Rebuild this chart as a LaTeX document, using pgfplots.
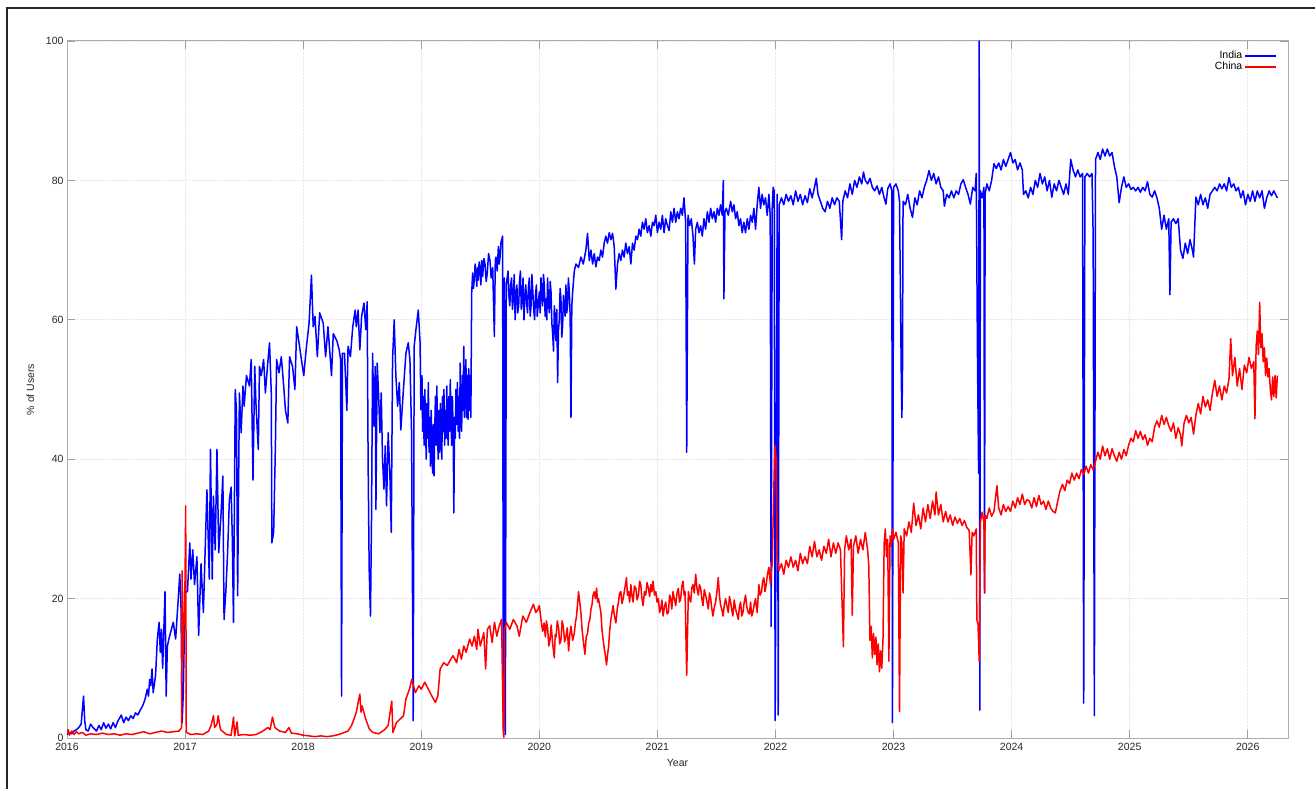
\documentclass[border=0pt]{standalone}
\usepackage{fontspec}
\setmainfont{Liberation Sans}
\usepackage{pgfplots}
\pgfplotsset{compat=1.18}
\usepackage{pgfplotstable}

\pgfplotstableread{
x y
2016.000 0.5
2016.020 0.8
2016.040 0.6
2016.060 1.0
2016.080 1.2
2016.100 1.5
2016.120 2.0
2016.140 6.0
2016.150 2.5
2016.160 1.2
2016.180 1.0
2016.200 2.0
2016.220 1.5
2016.250 1.0
2016.270 1.8
2016.290 1.2
2016.310 2.2
2016.330 1.4
2016.350 2.0
2016.370 1.3
2016.390 2.2
2016.410 1.5
2016.430 2.4
2016.460 3.3
2016.480 2.2
2016.500 3.0
2016.520 2.5
2016.540 3.2
2016.560 2.8
2016.580 3.6
2016.600 3.3
2016.620 4.0
2016.640 4.6
2016.660 5.5
2016.680 7.0
2016.690 6.0
2016.700 8.4
2016.710 7.5
2016.720 9.9
2016.730 6.5
2016.750 9.0
2016.765 14.2
2016.780 16.6
2016.790 12.3
2016.800 15.6
2016.810 10.0
2016.830 21.0
2016.840 6.0
2016.850 13.2
2016.870 14.7
2016.900 16.6
2016.920 14.2
2016.940 19.4
2016.955 23.5
2016.965 19.4
2016.975 2.2
2016.985 6.5
2017.000 20.9
2017.020 21.0
2017.040 28.0
2017.050 22.8
2017.065 27.0
2017.080 22.0
2017.100 26.0
2017.115 14.7
2017.135 25.0
2017.155 18.0
2017.170 27.0
2017.185 35.6
2017.205 22.8
2017.215 41.4
2017.230 22.8
2017.240 34.7
2017.255 27.0
2017.270 41.4
2017.285 26.6
2017.305 32.3
2017.320 37.6
2017.330 17.0
2017.345 21.0
2017.360 26.6
2017.375 34.2
2017.390 36.0
2017.400 28.5
2017.410 16.6
2017.425 50.0
2017.435 47.0
2017.445 20.4
2017.460 49.5
2017.475 43.8
2017.490 50.5
2017.500 47.6
2017.520 52.0
2017.545 50.5
2017.560 54.3
2017.575 37.0
2017.590 53.3
2017.600 48.0
2017.620 41.4
2017.630 53.3
2017.645 52.0
2017.665 54.3
2017.680 49.5
2017.700 53.8
2017.715 56.7
2017.730 49.5
2017.735 28.0
2017.750 29.5
2017.765 42.0
2017.775 54.3
2017.795 52.4
2017.815 54.7
2017.835 50.5
2017.850 47.0
2017.870 45.2
2017.885 54.7
2017.910 53.3
2017.930 50.0
2017.945 59.0
2017.965 56.7
2017.985 54.3
2018.005 52.0
2018.025 55.7
2018.050 59.5
2018.070 66.4
2018.085 59.0
2018.100 60.5
2018.120 54.7
2018.140 61.0
2018.170 59.5
2018.190 54.7
2018.210 59.0
2018.240 52.0
2018.255 58.0
2018.285 57.0
2018.305 55.7
2018.317 54.3
2018.325 6.0
2018.333 55.2
2018.350 55.2
2018.370 47.0
2018.380 56.2
2018.400 54.7
2018.420 59.0
2018.440 61.4
2018.450 59.0
2018.465 61.4
2018.480 55.7
2018.495 60.5
2018.515 62.4
2018.530 58.6
2018.542 62.6
2018.550 39.5
2018.559 24.2
2018.570 17.5
2018.579 31.8
2018.588 55.2
2018.600 44.7
2018.610 53.3
2018.616 32.8
2018.627 53.8
2018.638 49.5
2018.650 43.8
2018.661 49.5
2018.672 40.0
2018.684 35.7
2018.695 41.9
2018.706 33.3
2018.720 43.8
2018.734 38.0
2018.746 29.5
2018.757 54.3
2018.771 60.0
2018.785 52.0
2018.800 47.6
2018.814 51.0
2018.827 44.2
2018.847 49.5
2018.870 55.2
2018.890 56.7
2018.904 54.3
2018.918 43.8
2018.932 2.5
2018.940 56.2
2018.955 58.6
2018.975 61.4
2018.990 56.7
2018.997 47.1
2019.006 52
2019.012 44
2019.018 49
2019.024 42
2019.030 50
2019.036 45
2019.042 40
2019.048 48
2019.054 43
2019.060 51
2019.066 41
2019.072 46
2019.078 39
2019.084 47
2019.090 42
2019.096 38
2019.102 45
2019.108 37.6
2019.114 44
2019.120 49
2019.126 42
2019.132 50.5
2019.138 43
2019.144 40
2019.150 47
2019.156 41
2019.162 48
2019.168 43
2019.174 40
2019.180 49
2019.186 44
2019.192 50
2019.198 42
2019.204 47
2019.210 43
2019.216 50.5
2019.222 45
2019.228 42
2019.234 49
2019.240 44
2019.246 51.4
2019.252 45
2019.258 42
2019.264 49
2019.270 44
2019.276 32.3
2019.282 46
2019.288 43
2019.294 50
2019.300 45
2019.306 51
2019.312 44
2019.318 49
2019.324 43
2019.330 53.8
2019.336 46
2019.342 44
2019.348 52
2019.354 47
2019.360 56.2
2019.366 46
2019.372 50
2019.378 54.3
2019.384 46
2019.390 52
2019.396 45.7
2019.402 53
2019.408 47
2019.414 52
2019.420 46
2019.427 63.8
2019.435 66.7
2019.442 64.5
2019.449 65.7
2019.456 68
2019.463 67.0
2019.470 64.8
2019.477 67.5
2019.483 65.7
2019.490 68.3
2019.497 67.6
2019.505 65
2019.512 68.5
2019.520 66.2
2019.530 68.8
2019.540 68.0
2019.550 65.5
2019.559 66.7
2019.570 69.5
2019.582 68.5
2019.592 66
2019.605 67.5
2019.619 57.6
2019.627 68.5
2019.633 69.0
2019.643 67
2019.653 70.5
2019.660 68
2019.667 69.0
2019.674 71
2019.681 71.5
2019.689 72.0
2019.695 1.0
2019.703 66.0
2019.712 0.5
2019.720 65.0
2019.735 67.0
2019.742 63.5
2019.750 62.0
2019.757 65
2019.765 66.0
2019.772 61.5
2019.780 63.0
2019.787 66.5
2019.795 60.0
2019.802 63.5
2019.810 65.0
2019.817 61
2019.825 62.0
2019.832 65.5
2019.840 67.0
2019.847 61.5
2019.855 63.0
2019.862 66
2019.870 60.0
2019.877 63
2019.885 65.0
2019.892 62.5
2019.900 61.0
2019.907 64.5
2019.915 66.0
2019.922 60.5
2019.930 62.0
2019.937 66.5
2019.945 64.0
2019.952 61.5
2019.960 60.0
2019.967 63.5
2019.975 65.0
2019.982 60.5
2019.990 62.0
2020.000 64
2020.007 61
2020.014 66
2020.021 63.5
2020.028 62
2020.035 66.5
2020.042 65
2020.049 60.5
2020.056 63
2020.063 60
2020.070 66
2020.077 62.5
2020.085 61
2020.092 65.5
2020.099 64
2020.106 59.5
2020.113 58
2020.120 55.5
2020.127 62
2020.134 60
2020.141 57
2020.148 61.5
2020.155 51
2020.162 58.5
2020.169 60
2020.176 64.5
2020.183 63
2020.190 57.5
2020.197 59
2020.204 63.5
2020.211 62
2020.218 60.5
2020.225 65
2020.232 61
2020.239 62
2020.246 66
2020.254 64
2020.261 60.5
2020.268 46
2020.275 62
2020.282 64
2020.296 67
2020.310 68
2020.332 67.5
2020.352 69
2020.372 68
2020.394 70
2020.408 72.4
2020.423 68.5
2020.437 70
2020.451 68
2020.465 69.5
2020.479 67.6
2020.493 69
2020.507 68.5
2020.521 70
2020.535 69
2020.549 71
2020.563 72
2020.577 71
2020.592 72.5
2020.606 71.5
2020.620 72.4
2020.634 70.5
2020.648 64.4
2020.662 68
2020.676 69.5
2020.690 68.5
2020.704 70
2020.718 69
2020.732 71
2020.746 69.5
2020.761 70.5
2020.775 68
2020.789 71
2020.803 70
2020.817 72
2020.831 71.5
2020.845 73
2020.859 72
2020.873 74
2020.887 73
2020.901 74.5
2020.915 72.5
2020.930 73.5
2020.944 72
2020.958 74
2020.972 73.5
2020.986 75
2021.000 72.5
2021.014 74
2021.028 73
2021.042 75
2021.056 72.5
2021.070 74.5
2021.085 73.5
2021.099 72.8
2021.113 75.5
2021.127 74
2021.141 76
2021.155 74
2021.169 75.5
2021.183 74.5
2021.197 76
2021.211 75
2021.225 77.5
2021.239 74
2021.248 41
2021.259 75
2021.273 73.5
2021.287 74.5
2021.301 72
2021.313 68
2021.324 73
2021.338 74
2021.352 72.5
2021.366 73.5
2021.380 72
2021.394 74.5
2021.408 73
2021.423 75.5
2021.437 74
2021.451 76
2021.465 74.5
2021.479 75.5
2021.493 74
2021.507 76
2021.521 75
2021.535 76.5
2021.549 75
2021.558 80
2021.563 63
2021.572 75.5
2021.583 76
2021.600 75
2021.620 77
2021.634 75.5
2021.648 76.5
2021.662 74.5
2021.676 75.5
2021.690 73.5
2021.704 74.5
2021.718 72.5
2021.732 74
2021.746 72.5
2021.761 74.5
2021.775 73
2021.789 75
2021.803 74
2021.817 76
2021.831 73
2021.845 76.5
2021.859 79
2021.873 76
2021.887 78
2021.901 76.5
2021.915 77.5
2021.930 75
2021.944 78
2021.955 75
2021.963 16
2021.972 76
2021.980 79
2021.989 78.5
2021.997 2.5
2022.006 36
2022.014 78
2022.023 3.3
2022.031 76.5
2022.050 77.5
2022.070 76.5
2022.090 78
2022.110 77
2022.130 77.8
2022.150 76.5
2022.170 78.5
2022.190 77
2022.210 78
2022.230 76.5
2022.250 77.8
2022.270 76.8
2022.290 78.8
2022.310 77.5
2022.330 79
2022.345 80.3
2022.360 78
2022.380 77
2022.400 76
2022.420 75.5
2022.440 77
2022.460 76
2022.480 77.5
2022.500 76.5
2022.520 77.5
2022.540 77
2022.560 71.5
2022.570 77
2022.590 78.5
2022.610 77.5
2022.630 79.5
2022.650 78
2022.670 80
2022.690 79
2022.710 80.5
2022.730 79.5
2022.745 81.2
2022.760 80
2022.780 79.5
2022.800 80.3
2022.820 79
2022.840 78.5
2022.860 79.2
2022.880 78
2022.900 79
2022.920 77.5
2022.935 76.6
2022.950 78.8
2022.970 79.5
2022.985 78.5
2022.990 2.2
2023.000 79
2023.020 79.5
2023.040 78.5
2023.050 77
2023.065 52
2023.070 46
2023.075 51
2023.080 77
2023.100 76.5
2023.120 78
2023.140 76
2023.160 74.7
2023.180 77.5
2023.200 76.5
2023.220 78.5
2023.240 77.5
2023.260 79
2023.280 80
2023.300 81.4
2023.320 80
2023.340 81
2023.360 79.5
2023.380 80.5
2023.400 79
2023.420 78.5
2023.430 76.3
2023.450 78
2023.470 77.5
2023.490 78.5
2023.510 77.5
2023.530 78.5
2023.550 78
2023.570 79.5
2023.590 80.1
2023.610 79
2023.630 78
2023.650 76.6
2023.670 79
2023.690 78.5
2023.700 81
2023.710 55.4
2023.720 38
2023.725 100
2023.730 4
2023.735 78.5
2023.750 77.5
2023.765 79
2023.770 20.8
2023.775 78
2023.790 79.5
2023.810 78.5
2023.830 80
2023.850 82.4
2023.870 81.7
2023.890 82.5
2023.910 81.5
2023.930 83
2023.950 82
2023.970 83
2023.990 84
2024.010 82.5
2024.030 83
2024.050 81.5
2024.070 82.5
2024.090 81.5
2024.100 78
2024.120 78.5
2024.140 77.5
2024.160 79
2024.180 78
2024.200 80
2024.220 79
2024.240 81
2024.260 79.5
2024.280 80.5
2024.300 78.5
2024.320 80
2024.340 77.6
2024.360 79.5
2024.380 78.5
2024.400 80
2024.420 79
2024.440 78
2024.460 79.5
2024.480 78
2024.500 83
2024.520 81.5
2024.540 80.5
2024.560 81.5
2024.580 80.5
2024.600 81
2024.610 5
2024.620 80.5
2024.640 81
2024.660 80.5
2024.680 81
2024.690 72
2024.700 3.2
2024.710 83
2024.730 84
2024.750 83
2024.770 84.5
2024.790 83.5
2024.810 84.5
2024.830 83.5
2024.850 84
2024.870 82
2024.890 80.5
2024.910 76.8
2024.930 79
2024.950 80.5
2024.970 79
2024.990 79.5
2025.010 78.7
2025.030 79
2025.050 78.5
2025.070 79
2025.090 78.3
2025.110 79
2025.130 78.5
2025.150 79.8
2025.170 78
2025.190 77.6
2025.210 78.5
2025.230 77.5
2025.250 76
2025.270 73
2025.290 75
2025.310 73
2025.330 74.5
2025.340 63.6
2025.350 74
2025.370 74.5
2025.390 73.8
2025.410 74.5
2025.430 70
2025.450 68.8
2025.470 71
2025.490 69.5
2025.510 71.5
2025.530 70
2025.540 69
2025.560 77.6
2025.580 76.5
2025.600 78
2025.620 76.5
2025.640 77.5
2025.660 76
2025.680 78
2025.700 78.5
2025.720 79
2025.740 78.5
2025.760 79.5
2025.780 78.8
2025.800 79.5
2025.820 78.5
2025.840 80.4
2025.860 79
2025.880 79.5
2025.900 78.5
2025.920 79
2025.940 77.5
2025.960 78.5
2025.980 76.5
2026.000 78
2026.020 77
2026.040 78.5
2026.060 77
2026.080 78.5
2026.100 77.5
2026.120 78.5
2026.140 76
2026.160 77.5
2026.180 78.5
2026.200 77.8
2026.220 78.5
2026.240 77.8
2026.250 77.5
}\india

\pgfplotstableread{
x y
2016.000 0.8
2016.010 1.2
2016.020 0.4
2016.040 1.0
2016.060 0.5
2016.080 0.9
2016.100 0.6
2016.130 0.8
2016.160 0.4
2016.200 0.6
2016.250 0.5
2016.300 0.7
2016.350 0.5
2016.400 0.6
2016.450 0.4
2016.500 0.6
2016.550 0.5
2016.600 0.7
2016.650 0.9
2016.700 0.6
2016.750 0.8
2016.800 1.0
2016.850 0.8
2016.900 0.9
2016.950 1.0
2016.970 1.5
2016.975 24.0
2016.980 11.0
2016.990 16.0
2017.000 23.0
2017.005 33.3
2017.010 0.8
2017.050 0.5
2017.100 0.6
2017.150 0.5
2017.200 1.0
2017.220 1.8
2017.240 3.2
2017.250 1.5
2017.270 2.0
2017.280 3.2
2017.300 1.2
2017.350 0.5
2017.390 0.4
2017.410 3.0
2017.420 0.3
2017.440 2.3
2017.450 0.4
2017.500 0.5
2017.550 0.4
2017.600 0.5
2017.650 0.9
2017.700 1.5
2017.720 1.2
2017.740 3.0
2017.760 1.5
2017.800 1.0
2017.850 0.8
2017.880 1.5
2017.900 0.7
2017.950 0.6
2018.000 0.4
2018.050 0.3
2018.100 0.2
2018.150 0.3
2018.200 0.2
2018.250 0.3
2018.300 0.5
2018.350 0.8
2018.380 1.0
2018.410 1.8
2018.430 2.7
2018.450 3.7
2018.470 5.5
2018.480 6.3
2018.490 3.7
2018.500 4.6
2018.530 2.7
2018.560 1.3
2018.590 0.8
2018.640 0.6
2018.690 1.2
2018.720 1.8
2018.750 5.3
2018.760 0.8
2018.790 2.2
2018.820 2.7
2018.850 3.2
2018.870 5.6
2018.900 7.0
2018.920 8.4
2018.950 6.5
2018.980 7.5
2019.000 7.0
2019.030 8.0
2019.060 7.0
2019.090 6.0
2019.120 5.1
2019.140 6.0
2019.160 9.9
2019.190 10.8
2019.220 10.4
2019.250 11.3
2019.270 11.8
2019.300 10.8
2019.320 12.7
2019.340 11.3
2019.360 13.2
2019.380 12.3
2019.410 14.2
2019.430 13.2
2019.450 14.6
2019.470 12.7
2019.480 15.6
2019.500 13.2
2019.530 15.1
2019.545 9.9
2019.560 15.6
2019.580 16.1
2019.600 13.7
2019.620 16.6
2019.640 14.6
2019.660 16.1
2019.680 17.0
2019.695 0.8
2019.700 0.1
2019.705 15.6
2019.720 16.6
2019.750 15.6
2019.780 17.0
2019.810 16.1
2019.830 14.6
2019.860 17.5
2019.890 16.6
2019.920 18.0
2019.950 19.2
2019.970 18.0
2019.990 18.5
2020.000 19
2020.014 17
2020.028 15.3
2020.040 16.5
2020.051 14.5
2020.060 16.8
2020.070 15.8
2020.080 13.2
2020.090 14
2020.100 16.2
2020.113 13.5
2020.127 11.5
2020.134 14.8
2020.141 14.5
2020.152 16.8
2020.163 15.8
2020.172 13.5
2020.183 14
2020.193 16.8
2020.203 16
2020.214 13.8
2020.225 14.5
2020.236 15.8
2020.248 12.5
2020.258 14.8
2020.268 16
2020.282 14
2020.296 15
2020.305 16.5
2020.315 17.5
2020.332 21
2020.342 19.5
2020.352 18
2020.362 15.5
2020.372 14
2020.386 12
2020.397 14.5
2020.408 15
2020.418 16.5
2020.428 17
2020.437 18.5
2020.445 19
2020.455 20.5
2020.465 21
2020.475 20
2020.485 21.5
2020.493 19.5
2020.501 20
2020.511 19
2020.521 18
2020.531 15.5
2020.541 14
2020.550 12.8
2020.558 12
2020.569 10.5
2020.578 12
2020.586 13
2020.596 15.5
2020.606 17
2020.615 18
2020.625 19
2020.636 17.5
2020.648 16.5
2020.660 18.5
2020.670 19.5
2020.680 20.8
2020.690 21
2020.700 19.3
2020.710 20
2020.724 21.5
2020.738 23
2020.746 20.5
2020.755 21
2020.765 19.5
2020.775 22
2020.784 20.5
2020.794 19.5
2020.805 21.8
2020.817 21.5
2020.828 19.8
2020.839 20.5
2020.849 22.5
2020.859 22
2020.869 20
2020.879 19
2020.890 21
2020.901 20.5
2020.912 22.3
2020.924 21.5
2020.934 20.3
2020.944 22
2020.953 21
2020.963 22.5
2020.975 20.5
2020.986 21
2020.997 19.5
2021.008 20
2021.018 18
2021.028 18.5
2021.038 19.8
2021.048 17.5
2021.059 18.8
2021.070 19.5
2021.082 17.8
2021.093 18
2021.103 20.5
2021.113 20
2021.122 18.5
2021.132 21
2021.143 20
2021.155 19
2021.166 20.8
2021.177 21.5
2021.187 19.5
2021.197 20
2021.207 21.8
2021.217 22.5
2021.226 20.5
2021.234 21
2021.248 9
2021.262 21
2021.272 20
2021.282 19.5
2021.291 21.5
2021.301 22
2021.312 20.8
2021.324 23.5
2021.335 21.5
2021.346 20.5
2021.356 22
2021.366 21.5
2021.376 20
2021.386 19
2021.397 21.3
2021.408 20.5
2021.420 19.5
2021.431 18.5
2021.441 20.8
2021.451 20
2021.461 18.5
2021.470 17.5
2021.482 18.8
2021.493 19.5
2021.504 21
2021.515 23
2021.525 20.5
2021.535 19
2021.545 18.5
2021.555 17.5
2021.566 19
2021.577 20
2021.588 19
2021.600 18
2021.610 20.3
2021.620 19.5
2021.630 18.3
2021.639 17.5
2021.650 19.8
2021.662 18.5
2021.673 17.8
2021.685 17
2021.694 18.8
2021.704 19.5
2021.714 17.5
2021.724 18
2021.735 19.5
2021.746 20.5
2021.757 18.8
2021.769 18
2021.779 17.8
2021.789 19.5
2021.798 17.5
2021.808 18
2021.820 19.2
2021.831 20
2021.838 18.8
2021.845 18
2021.852 20
2021.859 22
2021.870 20.5
2021.882 21
2021.891 22.5
2021.901 23
2021.911 21
2021.921 22
2021.932 23.5
2021.944 24.5
2021.951 23
2021.958 22
2021.965 24
2021.972 25
2021.986 36
2021.994 42
2022.006 40
2022.014 26
2022.028 24
2022.050 25
2022.070 23.5
2022.090 25.5
2022.110 24.5
2022.130 26
2022.150 24.5
2022.170 25.5
2022.190 24
2022.210 26.5
2022.230 25
2022.250 26
2022.270 25
2022.290 27.5
2022.310 26
2022.330 28.2
2022.350 26
2022.370 27
2022.390 25.5
2022.410 27.5
2022.430 26.5
2022.450 28.5
2022.470 26
2022.490 28
2022.510 26.5
2022.530 28
2022.550 27
2022.575 13.1
2022.585 27
2022.600 29
2022.620 27
2022.640 28.5
2022.650 17.6
2022.660 27.5
2022.680 29
2022.700 26.5
2022.720 28.5
2022.740 27
2022.760 29.5
2022.780 27
2022.790 24.7
2022.800 14
2022.810 16
2022.820 11.5
2022.830 15
2022.840 12
2022.850 14.5
2022.860 10.5
2022.870 13.5
2022.880 9.5
2022.890 12.5
2022.900 10
2022.910 14
2022.920 27.9
2022.930 30
2022.940 26
2022.950 28.5
2022.960 11
2022.970 29
2022.980 27.5
2022.990 30
2023.000 28.5
2023.020 29.5
2023.040 28
2023.050 3.8
2023.060 29
2023.070 28
2023.080 20.8
2023.090 30
2023.110 29
2023.130 31
2023.150 29.5
2023.170 33.7
2023.190 30.5
2023.210 32
2023.230 30
2023.250 33
2023.270 31
2023.290 33.5
2023.310 31.5
2023.330 34
2023.350 32
2023.360 35.3
2023.380 32
2023.400 33.5
2023.420 31
2023.440 32.5
2023.460 31
2023.480 32
2023.500 30.5
2023.520 31.7
2023.540 30.8
2023.560 31.5
2023.580 30.5
2023.600 31.2
2023.620 30.2
2023.640 29.8
2023.655 23.4
2023.665 29.5
2023.680 29
2023.700 30
2023.705 17
2023.715 16.3
2023.725 11
2023.735 31
2023.750 32.4
2023.765 31
2023.770 20.8
2023.775 32
2023.790 31.5
2023.810 33
2023.830 31.8
2023.850 32.5
2023.875 36.2
2023.890 33
2023.910 32
2023.930 33.5
2023.950 32.5
2023.970 33.2
2023.990 32.5
2024.010 34
2024.030 33
2024.050 34.5
2024.070 33.5
2024.090 35
2024.110 33.5
2024.130 34.2
2024.150 34
2024.170 33
2024.190 34.5
2024.210 33.2
2024.230 34.8
2024.250 33.5
2024.270 34
2024.290 32.8
2024.310 34
2024.330 33
2024.350 32.5
2024.370 32.3
2024.390 34
2024.410 35.5
2024.430 36.4
2024.450 35.5
2024.470 37
2024.490 36.5
2024.510 38
2024.530 37
2024.550 38
2024.570 37.2
2024.590 38.5
2024.610 37.8
2024.630 39
2024.650 38
2024.670 39.2
2024.690 38.5
2024.710 39.7
2024.730 41
2024.750 40
2024.770 41.9
2024.790 40.5
2024.810 41.5
2024.830 40
2024.850 41.5
2024.870 40.5
2024.890 39.7
2024.910 41
2024.930 40
2024.950 41.4
2024.970 40.5
2024.990 42
2025.010 43
2025.030 42.5
2025.050 44.1
2025.070 43
2025.090 44
2025.110 42.8
2025.130 43.5
2025.150 42
2025.170 43
2025.190 42.5
2025.210 44.6
2025.230 45.5
2025.250 44.6
2025.270 46.3
2025.290 45
2025.310 46
2025.330 44.8
2025.350 44
2025.370 45.2
2025.390 43
2025.410 44.5
2025.430 43.5
2025.440 41.9
2025.460 45.2
2025.480 46.3
2025.500 45.2
2025.520 46
2025.540 43.6
2025.560 46.3
2025.580 48
2025.600 46.5
2025.620 49
2025.640 47.5
2025.660 48.5
2025.680 47
2025.700 49.5
2025.720 51.3
2025.740 49
2025.760 50.5
2025.780 48.5
2025.800 50.5
2025.820 49.5
2025.840 51.5
2025.855 57.3
2025.870 52
2025.890 54.6
2025.910 50.5
2025.930 53
2025.950 50
2025.970 53.5
2025.990 52.4
2026.010 54.6
2026.030 53
2026.050 54
2026.060 45.8
2026.070 56.2
2026.080 58.4
2026.090 55
2026.100 62.5
2026.110 56
2026.120 58
2026.130 54
2026.140 56
2026.150 52
2026.160 54.5
2026.170 51.8
2026.180 53
2026.190 50
2026.200 48.5
2026.210 51.8
2026.220 49
2026.230 52
2026.240 48.8
2026.250 52
}\china

\begin{document}
\begin{tikzpicture}[x=1pt,y=1pt]
\useasboundingbox (0,0) rectangle (1315,788);
\draw[line width=1.6pt, black!85] (7,-2) -- (7,780) -- (1317,780);
\begin{axis}[
  at={(67pt,50pt)}, anchor=south west,
  scale only axis, width=1221pt, height=697pt,
  xmin=2016, xmax=2026.34, ymin=0, ymax=100,
  xtick={2016,2017,...,2026}, ytick={0,20,...,100},
  /pgf/number format/1000 sep={},
  /pgf/number format/assume math mode=true,
  tick align=inside, major tick length=8pt,
  tick style={gray!75, line width=0.9pt},
  axis line style={gray!65, line width=1pt},
  grid=major, major grid style={gray!18, densely dotted, line width=0.6pt},
  tick label style={font=\fontsize{10.5}{12}\selectfont, text=black!85},
  xticklabel style={yshift=-1.5pt},
  label style={font=\fontsize{10.5}{12}\selectfont, text=black!85},
  xlabel={Year}, ylabel={\% of Users},
  xlabel style={at={(axis description cs:0.5,-0.036)}, anchor=center},
  ylabel style={at={(axis description cs:-0.030,0.5)}, anchor=center, rotate=0},
  legend style={at={(axis description cs:1,1)}, anchor=north east, xshift=-10pt, yshift=-7pt,
    draw=none, fill=none, font=\fontsize{10.5}{11}\selectfont, row sep=-2pt, inner sep=1pt},
  legend cell align=right, legend plot pos=right,
  legend image code/.code={\draw[#1, line width=1.5pt] (0pt,0pt) -- (31pt,0pt);},
]
\addplot[blue, line width=1.5pt, mark=none, line join=round] table {\india};
\addlegendentry{India}
\addplot[red, line width=1.5pt, mark=none, line join=round] table {\china};
\addlegendentry{China}
\end{axis}
\end{tikzpicture}
\end{document}
